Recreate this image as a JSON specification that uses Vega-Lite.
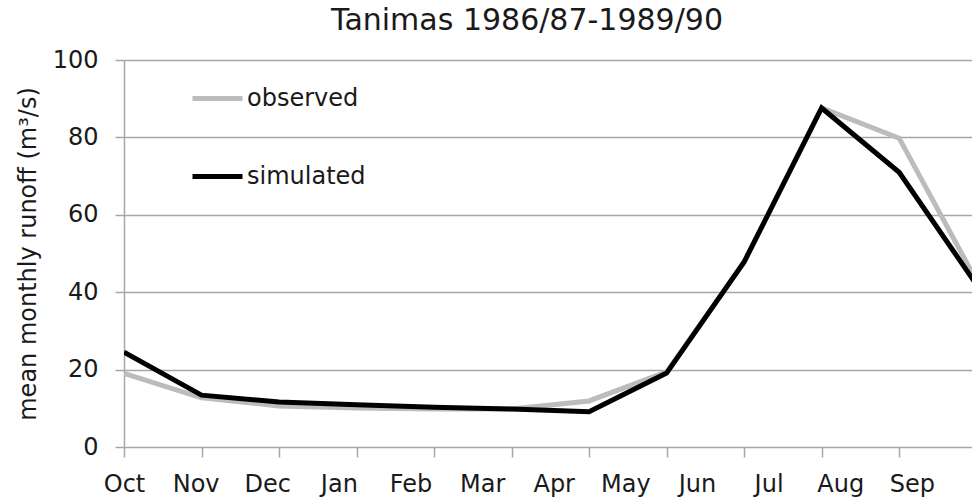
{
  "$schema": "https://vega.github.io/schema/vega-lite/v6.json",
  "width": 848,
  "height": 387,
  "autosize": {"type": "none"},
  "padding": {"left": 124, "top": 60, "right": 0, "bottom": 52},
  "background": "white",
  "config": {
    "font": "DejaVu Sans",
    "view": {"stroke": null},
    "axis": {"labelFont": "DejaVu Sans", "titleFont": "DejaVu Sans", "labelColor": "#1a1a1a", "titleColor": "#1a1a1a", "titleFontWeight": "normal"}
  },
  "title": {
    "text": "Tanimas 1986/87-1989/90",
    "fontSize": 30,
    "fontWeight": "normal",
    "font": "DejaVu Sans",
    "color": "#1a1a1a",
    "anchor": "middle",
    "dx": -21,
    "offset": 12
  },
  "datasets": {
    "runoff": [
      {"month": "Oct", "i": 0, "series": "observed", "value": 19.0},
      {"month": "Nov", "i": 1, "series": "observed", "value": 12.7},
      {"month": "Dec", "i": 2, "series": "observed", "value": 10.6},
      {"month": "Jan", "i": 3, "series": "observed", "value": 10.1},
      {"month": "Feb", "i": 4, "series": "observed", "value": 9.8},
      {"month": "Mar", "i": 5, "series": "observed", "value": 9.8},
      {"month": "Apr", "i": 6, "series": "observed", "value": 11.9},
      {"month": "May", "i": 7, "series": "observed", "value": 19.4},
      {"month": "Jun", "i": 8, "series": "observed", "value": 47.8},
      {"month": "Jul", "i": 9, "series": "observed", "value": 87.6},
      {"month": "Aug", "i": 10, "series": "observed", "value": 79.8},
      {"month": "Sep", "i": 11, "series": "observed", "value": 42.9},
      {"month": "Oct", "i": 0, "series": "simulated", "value": 24.5},
      {"month": "Nov", "i": 1, "series": "simulated", "value": 13.4},
      {"month": "Dec", "i": 2, "series": "simulated", "value": 11.6},
      {"month": "Jan", "i": 3, "series": "simulated", "value": 10.9},
      {"month": "Feb", "i": 4, "series": "simulated", "value": 10.3},
      {"month": "Mar", "i": 5, "series": "simulated", "value": 9.8},
      {"month": "Apr", "i": 6, "series": "simulated", "value": 9.1},
      {"month": "May", "i": 7, "series": "simulated", "value": 19.1},
      {"month": "Jun", "i": 8, "series": "simulated", "value": 47.8},
      {"month": "Jul", "i": 9, "series": "simulated", "value": 87.6},
      {"month": "Aug", "i": 10, "series": "simulated", "value": 71.0},
      {"month": "Sep", "i": 11, "series": "simulated", "value": 41.9}
    ],
    "labels": [
      {"k": 0, "name": "Oct"}, {"k": 1, "name": "Nov"}, {"k": 2, "name": "Dec"},
      {"k": 3, "name": "Jan"}, {"k": 4, "name": "Feb"}, {"k": 5, "name": "Mar"},
      {"k": 6, "name": "Apr"}, {"k": 7, "name": "May"}, {"k": 8, "name": "Jun"},
      {"k": 9, "name": "Jul"}, {"k": 10, "name": "Aug"}, {"k": 11, "name": "Sep"}
    ]
  },
  "layer": [
    {
      "data": {"name": "runoff"},
      "mark": {"type": "line", "strokeWidth": 5, "clip": true, "strokeJoin": "miter"},
      "encoding": {
        "x": {
          "field": "i", "type": "quantitative",
          "scale": {"domain": [0, 10.94], "nice": false, "zero": false},
          "axis": {
            "orient": "bottom",
            "values": [0, 1, 2, 3, 4, 5, 6, 7, 8, 9, 10],
            "labels": false, "grid": false, "domain": false,
            "ticks": true, "tickSize": 10, "tickColor": "#a6a6a6", "tickWidth": 1.5,
            "title": null
          }
        },
        "y": {
          "field": "value", "type": "quantitative",
          "scale": {"domain": [0, 100], "nice": false},
          "axis": {
            "values": [0, 20, 40, 60, 80, 100],
            "grid": true, "gridColor": "#a6a6a6", "gridWidth": 1.5,
            "domain": true, "domainColor": "#a6a6a6", "domainWidth": 1.5,
            "ticks": true, "tickSize": 9, "tickColor": "#a6a6a6", "tickWidth": 1.5,
            "labelFontSize": 24, "labelPadding": 17,
            "title": "mean monthly runoff (m³/s)",
            "titleFontSize": 24, "titlePadding": 12
          }
        },
        "color": {
          "field": "series", "type": "nominal",
          "scale": {"domain": ["observed", "simulated"], "range": ["#bcbcbc", "#000000"]},
          "legend": {
            "title": null,
            "orient": "none",
            "legendX": 66,
            "legendY": 11,
            "symbolType": "stroke",
            "symbolSize": 2500,
            "symbolStrokeWidth": 5,
            "labelFontSize": 24,
            "labelFont": "DejaVu Sans",
            "labelColor": "#1a1a1a",
            "labelOffset": 2,
            "rowPadding": 38
          }
        }
      }
    },
    {
      "data": {"name": "labels"},
      "mark": {"type": "point", "opacity": 0},
      "encoding": {
        "x": {
          "field": "k", "type": "quantitative",
          "scale": {"domain": [0, 11.84], "nice": false, "zero": false},
          "axis": {
            "orient": "bottom",
            "values": [0, 1, 2, 3, 4, 5, 6, 7, 8, 9, 10, 11],
            "labelExpr": "['Oct','Nov','Dec','Jan','Feb','Mar','Apr','May','Jun','Jul','Aug','Sep'][datum.value]",
            "labelFontSize": 24, "labelPadding": 25,
            "ticks": false, "domain": false, "grid": false,
            "labelFlush": false, "labelOverlap": false,
            "title": null
          }
        },
        "y": {"datum": 0}
      }
    }
  ],
  "resolve": {"scale": {"x": "independent"}, "axis": {"x": "independent"}}
}
